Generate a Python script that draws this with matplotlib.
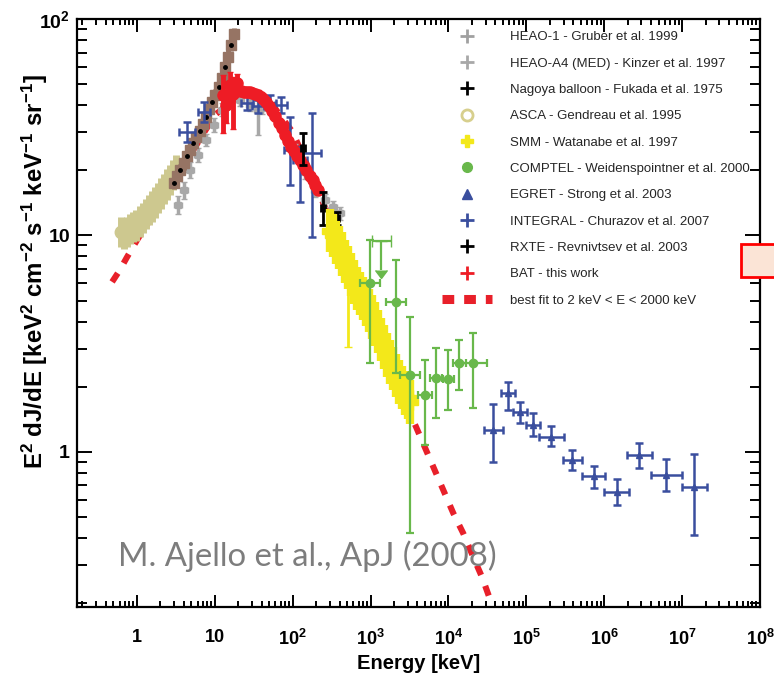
import numpy as np
import matplotlib
matplotlib.use("Agg")
import matplotlib.pyplot as plt
from matplotlib.lines import Line2D
from matplotlib.patches import Rectangle
from matplotlib.ticker import FixedLocator, FixedFormatter, LogLocator, NullFormatter

plt.rcParams['font.family'] = ['Liberation Sans', 'DejaVu Sans']
plt.rcParams['mathtext.fontset'] = 'custom'
plt.rcParams['mathtext.rm'] = 'Liberation Sans:bold'
plt.rcParams['mathtext.it'] = 'Liberation Sans:bold'
plt.rcParams['mathtext.bf'] = 'Liberation Sans:bold'
plt.rcParams['axes.unicode_minus'] = False

# ---------------- data: Energy [keV], E^2 dJ/dE ----------------
asca_E = [0.62, 0.68, 0.75, 0.82, 0.90, 0.98, 1.08, 1.18, 1.30, 1.42, 1.55, 1.70, 1.86, 2.03, 2.22, 2.42, 2.65, 2.90, 3.15]
asca_F = [10.4, 10.2, 10.4, 10.7, 10.9, 11.1, 11.6, 12.0, 12.6, 13.1, 13.6, 14.2, 14.9, 15.6, 16.4, 17.2, 18.1, 19.0, 20.0]

brown_E = [3.0, 3.3, 3.6, 4.0, 4.4, 4.8, 5.3, 5.8, 6.4, 7.0, 7.7, 8.5, 9.3, 10.2, 11.2, 12.3, 13.5, 14.8, 16.2, 17.6]
brown_F = [17.5, 18.8, 20.0, 21.5, 23.2, 24.8, 26.6, 28.5, 30.5, 32.8, 35.3, 38.2, 41.2, 44.5, 48.5, 53.5, 60.0, 67.0, 76.0, 85.0]

heao_E = [3.37, 4.0, 4.8, 6.1, 7.7, 9.8, 12.4, 15.7, 21.0, 28.3, 35.9, 40.5, 54.4, 80.0, 108.0, 144.0, 194.0, 261.0, 330.0, 405.0]
heao_F = [13.8, 16.2, 20.1, 23.5, 27.6, 32.4, 38.0, 42.3, 42.3, 40.1, 38.0, 38.8, 37.2, 29.1, 24.8, 19.6, 16.2, 14.6, 13.5, 12.7]
heao_lo = [12.5, 14.8, 18.5, 21.8, 25.8, 30.2, 35.5, 39.5, 39.5, 37.5, 29.1, 36.3, 34.8, 27.2, 23.2, 18.3, 15.1, 13.6, 12.6, 11.8]
heao_hi = [15.2, 17.7, 21.8, 25.3, 29.5, 34.7, 40.7, 45.3, 45.3, 42.9, 44.5, 41.5, 39.8, 31.1, 26.5, 21.0, 17.3, 15.6, 14.4, 13.6]

bat_E = [12.7, 14.0, 15.7, 17.3, 19.3, 20.0, 22.0, 24.0, 26.0, 28.0, 30.0, 33.0, 36.0, 39.0, 42.0, 46.0, 50.0,
         55.0, 60.0, 66.0, 72.0, 79.0, 87.0, 95.0, 104.0, 114.0, 125.0, 137.0, 150.0, 165.0, 180.0, 195.0, 212.0]
bat_F = [44.6, 40.0, 49.6, 45.0, 50.6, 47.0, 46.5, 46.2, 46.0, 45.8, 45.6, 45.2, 44.6, 43.8, 42.8, 41.5, 39.8,
         37.6, 35.5, 33.2, 31.2, 29.2, 27.4, 25.7, 24.5, 23.3, 22.2, 21.2, 20.0, 18.9, 18.0, 17.1, 16.3]
bat_lo = [29.7, 33.0, 40.0, 31.0, 44.0, 44.5, 44.3, 44.0, 43.8, 43.6, 43.4, 43.0, 42.5, 41.7, 40.8, 39.5, 37.9,
          35.8, 33.8, 31.6, 29.7, 27.8, 26.1, 24.5, 23.3, 22.2, 21.1, 20.2, 19.0, 18.0, 17.1, 16.3, 15.5]
bat_hi = [55.0, 47.0, 57.0, 54.0, 56.0, 49.4, 48.8, 48.5, 48.3, 48.1, 47.9, 47.5, 46.8, 46.0, 44.9, 43.6, 41.8,
          39.5, 37.3, 34.9, 32.8, 30.7, 28.8, 27.0, 25.7, 24.5, 23.3, 22.3, 21.0, 19.8, 18.9, 18.0, 17.1]

integral_E = [4.39, 7.27, 25.9, 35.9, 51.2, 71.0, 92.7, 124.0, 177.0]
integral_F = [30.1, 37.2, 40.9, 39.6, 40.9, 40.1, 24.8, 22.3, 24.0]
integral_lo = [27.0, 33.4, 38.0, 36.8, 38.0, 36.8, 17.1, 14.3, 9.84]
integral_hi = [33.4, 41.4, 44.1, 42.3, 44.5, 43.6, 35.3, 25.6, 36.8]
integral_dx = [0.10, 0.08, 0.08, 0.08, 0.08, 0.08, 0.08, 0.09, 0.11]

rxte_E = [136.0, 246.0, 372.0]
rxte_F = [25.4, 13.4, 12.0]
rxte_lo = [21.2, 11.2, 11.2]
rxte_hi = [29.8, 15.9, 12.8]

smm_E = [300, 330, 360, 395, 430, 470, 515, 560, 610, 670, 730, 800, 870, 950, 1040, 1140,
         1240, 1360, 1480, 1620, 1770, 1930, 2110, 2300, 2520, 2750, 3000, 3250]
smm_F = [10.5, 10.0, 9.3, 8.8, 8.2, 7.6, 7.1, 6.6, 6.1, 5.7, 5.4, 5.1, 4.8, 4.5, 4.2, 3.9,
         3.6, 3.3, 3.05, 2.8, 2.6, 2.42, 2.25, 2.1, 1.98, 1.87, 1.78, 1.70]
smm_tail_E = [515.0]
smm_tail_F = [6.9]
smm_tail_lo = [3.06]

comptel_E = [988, 2133, 3228, 5030, 6970, 9940, 13800, 20800]
comptel_F = [6.03, 4.93, 2.27, 1.83, 2.20, 2.17, 2.58, 2.58]
comptel_lo = [2.58, 2.32, 0.42, 1.08, 1.43, 1.56, 1.93, 1.60]
comptel_hi = [9.50, 7.70, 4.20, 2.66, 3.02, 2.96, 3.29, 3.55]
comptel_dx = [0.13, 0.13, 0.13, 0.09, 0.08, 0.07, 0.08, 0.18]
comptel_ul_E = [1368]
comptel_ul_F = [9.43]
comptel_ul_to = [6.9]

egret_E = [3.77e4, 5.87e4, 8.4e4, 1.23e5, 2.1e5, 3.9e5, 7.3e5, 1.44e6, 2.83e6, 6.3e6, 1.44e7]
egret_F = [1.26, 1.87, 1.53, 1.33, 1.17, 0.92, 0.77, 0.65, 0.97, 0.78, 0.69]
egret_lo = [0.899, 1.563, 1.36, 1.185, 1.066, 0.826, 0.682, 0.569, 0.844, 0.66, 0.414]
egret_hi = [1.666, 2.105, 1.70, 1.51, 1.318, 1.02, 0.862, 0.75, 1.10, 0.928, 0.979]
egret_dx = [0.118, 0.09, 0.09, 0.09, 0.155, 0.12, 0.15, 0.16, 0.16, 0.20, 0.165]

fit_E = [0.48, 0.6, 0.74, 1.0, 2.0, 5.0, 10.0, 20.0, 30.0, 50.0, 100.0, 200.0, 500.0,
         1000.0, 2000.0, 3850.0, 11500.0, 15500.0, 20800.0, 27200.0, 34400.0, 50000.0]
fit_F = [6.1, 6.9, 7.9, 9.5, 14.0, 24.0, 36.0, 44.0, 46.0, 42.0, 30.0, 17.0, 7.5,
         4.2, 2.2, 1.30, 0.522, 0.42, 0.327, 0.262, 0.207, 0.151]

legend_labels = ['HEAO-1 - Gruber et al. 1999', 'HEAO-A4 (MED) - Kinzer et al. 1997',
                 'Nagoya balloon - Fukada et al. 1975', 'ASCA - Gendreau et al. 1995',
                 'SMM - Watanabe et al. 1997', 'COMPTEL - Weidenspointner et al. 2000',
                 'EGRET - Strong et al. 2003', 'INTEGRAL - Churazov et al. 2007',
                 'RXTE - Revnivtsev et al. 2003', 'BAT - this work',
                 'best fit to 2 keV < E < 2000 keV']

x_ticks = [1, 10, 1e2, 1e3, 1e4, 1e5, 1e6, 1e7, 1e8]
x_ticklabels = ['1', '10', '$10^{2}$', '$10^{3}$', '$10^{4}$', '$10^{5}$', '$10^{6}$', '$10^{7}$', '$10^{8}$']
y_ticks = [1, 10, 100]
y_ticklabels = ['1', '10', '$10^{2}$']

# ---------------- colours ----------------
C_TAN = '#cdc88f'
C_BROWN = '#967464'
C_GRAY = '#a8a8a8'
C_RED = '#ee1c25'
C_BLUE = '#3a4e9e'
C_YEL = '#f3e81a'
C_GRN = '#69b84b'
C_FIT = '#e8202a'


def asym(F, lo, hi):
    F = np.asarray(F, float)
    return np.vstack([F - np.asarray(lo, float), np.asarray(hi, float) - F])


def xasym(E, dx):
    E = np.asarray(E, float)
    dx = np.asarray(dx, float)
    return np.vstack([E * (1 - 10 ** -dx), E * (10 ** dx - 1)])


def frac(F, d):
    F = np.asarray(F, float)
    return np.vstack([F * (1 - 10 ** -d), F * (10 ** d - 1)])


fig = plt.figure(figsize=(7.74, 6.78), dpi=100)
L, R, T, B = 77, 760, 19, 607
ax = fig.add_axes([L / 774, 1 - B / 678, (R - L) / 774, (B - T) / 678])
ax.set_xscale('log')
ax.set_yscale('log')

# best fit (below data)
ax.plot(fit_E, fit_F, color=C_FIT, lw=4.4, dashes=(1.7, 1.9), solid_capstyle='butt',
        dash_capstyle='butt', zorder=1)

# ASCA
ax.errorbar(asca_E, asca_F, yerr=frac(asca_F, 0.07), xerr=xasym(asca_E, np.full(len(asca_E), 0.05)),
            fmt='o', ms=9, color=C_TAN, mec=C_TAN, elinewidth=5, capsize=0, zorder=2)

# HEAO (gray)
ax.errorbar(heao_E, heao_F, yerr=asym(heao_F, heao_lo, heao_hi),
            xerr=xasym(heao_E, np.full(len(heao_E), 0.05)),
            fmt='s', ms=5, color=C_GRAY, elinewidth=2.5, capsize=2, zorder=3)

# brown band with black dots
ax.errorbar(brown_E, brown_F, yerr=frac(brown_F, 0.03), xerr=xasym(brown_E, np.full(len(brown_E), 0.03)),
            fmt='s', ms=7, color=C_BROWN, elinewidth=3.5, capsize=0, zorder=4)
ax.plot(brown_E[::2], brown_F[::2], 'o', ms=2.5, color='black', zorder=4.5)

# INTEGRAL
ax.errorbar(integral_E, integral_F, yerr=asym(integral_F, integral_lo, integral_hi),
            xerr=xasym(integral_E, integral_dx), fmt='none', ecolor=C_BLUE,
            elinewidth=1.8, capsize=3, capthick=1.8, zorder=5)

# BAT
ax.errorbar(bat_E, bat_F, yerr=asym(bat_F, bat_lo, bat_hi),
            xerr=xasym(bat_E, np.full(len(bat_E), 0.03)), fmt='o', ms=8, color=C_RED,
            elinewidth=3.5, capsize=2, zorder=6)

# RXTE
ax.errorbar(rxte_E, rxte_F, yerr=asym(rxte_F, rxte_lo, rxte_hi),
            xerr=xasym(rxte_E, np.full(len(rxte_E), 0.03)), fmt='none', ecolor='black',
            elinewidth=2, capsize=3, capthick=2, zorder=6.5)

# SMM
ax.errorbar(smm_E, smm_F, yerr=frac(smm_F, 0.1), xerr=xasym(smm_E, np.full(len(smm_E), 0.045)),
            fmt='P', ms=11, color=C_YEL, elinewidth=6, capsize=0, zorder=7)
ax.errorbar(smm_tail_E, smm_tail_F, yerr=asym(smm_tail_F, smm_tail_lo, smm_tail_F),
            fmt='none', ecolor=C_YEL, elinewidth=2, capsize=3, zorder=7)

# COMPTEL
ax.errorbar(comptel_E, comptel_F, yerr=asym(comptel_F, comptel_lo, comptel_hi),
            xerr=xasym(comptel_E, comptel_dx), fmt='o', ms=6, color=C_GRN,
            elinewidth=1.6, capsize=3, capthick=1.6, zorder=8)
ax.errorbar(comptel_ul_E, comptel_ul_F,
            yerr=np.array(comptel_ul_F) - np.array(comptel_ul_to),
            xerr=xasym(comptel_ul_E, [0.12]), uplims=True, fmt='none', ecolor=C_GRN, color=C_GRN,
            elinewidth=1.6, capsize=4, zorder=8)

# EGRET
ax.errorbar(egret_E, egret_F, yerr=asym(egret_F, egret_lo, egret_hi),
            xerr=xasym(egret_E, egret_dx), fmt='^', ms=5, color=C_BLUE,
            elinewidth=1.8, capsize=3, capthick=1.8, zorder=9)

# axes limits, ticks
ax.set_xlim(0.17, 1e8)
ax.set_ylim(0.192, 100)
ax.xaxis.set_major_locator(FixedLocator(x_ticks))
ax.xaxis.set_major_formatter(FixedFormatter(x_ticklabels))
ax.xaxis.set_minor_locator(LogLocator(base=10, subs=np.arange(2, 10), numticks=30))
ax.xaxis.set_minor_formatter(NullFormatter())
ax.yaxis.set_major_locator(FixedLocator(y_ticks))
ax.yaxis.set_major_formatter(FixedFormatter(y_ticklabels))
ax.yaxis.set_minor_locator(LogLocator(base=10, subs=np.arange(2, 10), numticks=30))
ax.yaxis.set_minor_formatter(NullFormatter())

ax.tick_params(which='both', direction='in', top=True, right=True, width=1.4, colors='black')
ax.tick_params(axis='x', which='major', length=9, pad=16, labelsize=13)
ax.tick_params(axis='x', which='minor', length=4.5)
ax.tick_params(axis='y', which='major', length=11, pad=5, labelsize=14)
ax.tick_params(axis='y', which='minor', length=7)
for lab in ax.get_xticklabels() + ax.get_yticklabels():
    lab.set_fontweight('bold')
for s in ax.spines.values():
    s.set_linewidth(1.6)

ax.set_xlabel('Energy [keV]', fontsize=14.5, fontweight='bold', labelpad=3.5)
fig.text(35 / 774, 1 - 272 / 678,
         r'E$^{2}$ dJ/dE [keV$^{2}$ cm$^{-2}$ s$^{-1}$ keV$^{-1}$ sr$^{-1}$]',
         rotation=90, ha='center', va='center', fontsize=17.3, fontweight='bold')

# legend
handles = [
    Line2D([], [], ls='none', marker='+', ms=10, mew=2, color='#a0a0a0'),
    Line2D([], [], ls='none', marker='+', ms=10, mew=2, color='#a8a8a8'),
    Line2D([], [], ls='none', marker='+', ms=10, mew=2, color='black'),
    Line2D([], [], ls='none', marker='o', ms=8, mew=2, mfc='none', color='#d7cf8d'),
    Line2D([], [], ls='none', marker='P', ms=9, color=C_YEL),
    Line2D([], [], ls='none', marker='o', ms=7, color=C_GRN),
    Line2D([], [], ls='none', marker='^', ms=7, color=C_BLUE),
    Line2D([], [], ls='none', marker='+', ms=10, mew=2, color=C_BLUE),
    Line2D([], [], ls='none', marker='+', ms=10, mew=2, color='black'),
    Line2D([], [], ls='none', marker='+', ms=10, mew=2, color=C_RED),
    Line2D([], [], color=C_FIT, lw=6.5, dashes=(1.3, 1.1), dash_capstyle='butt'),
]
leg = ax.legend(handles, legend_labels, loc='upper left', bbox_to_anchor=(442 / 774, 1 - 31 / 678),
                bbox_transform=fig.transFigure, frameon=False, fontsize=9.5, handlelength=3.8,
                handletextpad=1.35, labelspacing=1.07, borderpad=0, borderaxespad=0)
for t in leg.get_texts():
    t.set_color('#262626')

# citation text
fig.text(118 / 774, 1 - 566 / 678, 'M. Ajello et al., ApJ (2008)', fontsize=23.7,
         family='Lato', color='#7d7d7d', ha='left', va='baseline')

# red annotation box at right edge
fig.patches.append(Rectangle((741 / 774, 1 - 277 / 678), 40 / 774, 33 / 678,
                             transform=fig.transFigure, facecolor='#fbe4d6', edgecolor='#ff0000',
                             lw=2, clip_on=False, figure=fig))

fig.savefig('out.png', dpi=100)
